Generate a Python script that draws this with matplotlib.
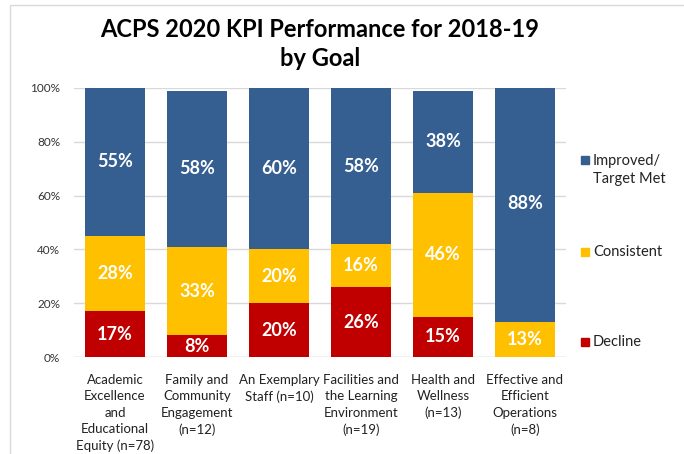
import numpy as np
import matplotlib.pyplot as plt
from matplotlib.patches import Rectangle

plt.rcParams['font.family'] = ['Lato', 'DejaVu Sans']

categories = ['Academic\nExcellence\nand\nEducational\nEquity (n=78)',
              'Family and\nCommunity\nEngagement\n(n=12)',
              'An Exemplary\nStaff (n=10)',
              'Facilities and\nthe Learning\nEnvironment\n(n=19)',
              'Health and\nWellness\n(n=13)',
              'Effective and\nEfficient\nOperations\n(n=8)']
decline = [17, 8, 20, 26, 15, 0]
consistent = [28, 33, 20, 16, 46, 13]
improved = [55, 58, 60, 58, 38, 88]

series = [('Decline', decline, '#C00000'),
          ('Consistent', consistent, '#FFC000'),
          ('Improved/\nTarget Met', improved, '#365F91')]

fig = plt.figure(figsize=(6.84, 4.54), dpi=100)
ax = fig.add_axes([74 / 684, 1 - 357 / 454, 492 / 684, 269 / 454])

x = np.arange(len(categories))
bottom = np.zeros(len(categories))
for name, vals, color in series:
    vals = np.array(vals, dtype=float)
    ax.bar(x, vals, 0.73, bottom=bottom, color=color, label=name, zorder=2)
    for xi, b, v in zip(x, bottom, vals):
        if v > 0:
            ax.text(xi, b + v / 2, f'{int(v)}%', ha='center', va='center',
                    color='white', fontsize=13, fontweight='bold', zorder=3)
    bottom += vals

ax.set_xlim(-0.5, len(categories) - 0.5)
ax.set_ylim(0, 100)
ax.set_yticks(np.arange(0, 101, 20))
ax.set_yticklabels([f'{v}%' for v in range(0, 101, 20)], fontsize=8.5, color='#333333')
ax.set_xticks(x)
ax.set_xticklabels(categories, fontsize=9.5, color='#222222', linespacing=1.45)
ax.tick_params(axis='x', length=0, pad=12)
ax.tick_params(axis='y', length=0, pad=10)
ax.yaxis.grid(True, color='#D9D9D9', linewidth=1, zorder=0)
ax.set_axisbelow(True)
for s in ax.spines.values():
    s.set_visible(False)
ax.axhline(0, color='#D9D9D9', linewidth=1, zorder=1)

# legend entries placed on the right, evenly down the axis
legend_items = [('Improved/\nTarget Met', '#365F91', 160, 170),
                ('Consistent', '#FFC000', 252, 252),
                ('Decline', '#C00000', 342, 342)]
for label, color, ybox, ytext in legend_items:
    fig.patches.append(Rectangle((581 / 684, 1 - (ybox + 4) / 454), 8 / 684, 8 / 454,
                                 transform=fig.transFigure, color=color))
    fig.text(593 / 684, 1 - ytext / 454, label, fontsize=10.5, va='center',
             ha='left', color='#222222', linespacing=1.35)

fig.text(320 / 684, 1 - 44 / 454, 'ACPS 2020 KPI Performance for 2018-19\nby Goal',
         ha='center', va='center', fontsize=17, fontweight='bold', linespacing=1.3)

fig.patches.append(Rectangle((10 / 684, -0.1), 1.2, 1 - 5 / 454 + 0.1, transform=fig.transFigure,
                             fill=False, edgecolor='#D9D9D9', linewidth=1))

fig.savefig('out.png', dpi=100)
